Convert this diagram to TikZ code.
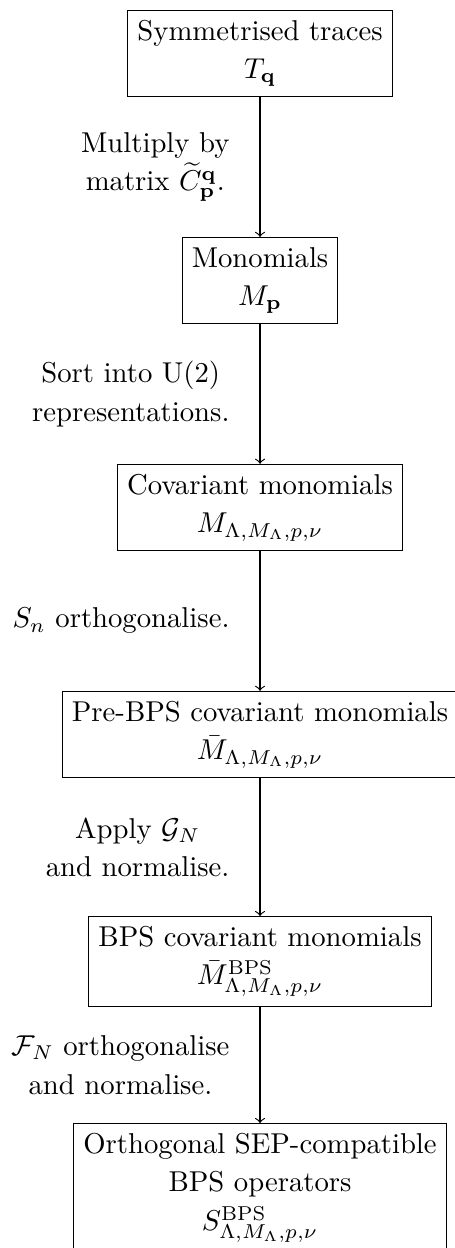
\documentclass[tikz,border=0pt]{standalone}
\usepackage{amsmath}
\usetikzlibrary{positioning}

\begin{document}
\begin{tikzpicture}[
    procbox/.style={
      draw,
      align=center,
      font=\linespread{1.117}\selectfont
    },
    steplabel/.style={
      midway,
      left=0.25cm,
      align=center,
      font=\linespread{1.117}\selectfont
    },
    node distance=2.78cm,
    on grid
  ]

      % Fixed frame, same proportions as the page
      \useasboundingbox (-90.6pt,18.6pt) rectangle (67.9pt,-416.2pt);

      % Chain of boxes, top to bottom
      \node[procbox] (traces) at (0,0) {Symmetrised traces\\ $T_{\mathbf{q}}$};
      \node[procbox, below=of traces] (monos) {Monomials\\ $M_{\mathbf{p}}$};
      \node[procbox, below=of monos] (covmonos) {Covariant monomials\\ $M_{\Lambda,M_\Lambda,p,\nu}$};
      \node[procbox, below=of covmonos] (prebps) {Pre-BPS covariant monomials\\ $\bar{M}_{\Lambda,M_\Lambda,p,\nu}$};
      \node[procbox, below=of prebps] (bpsmonos) {BPS covariant monomials\\ $\bar{M}^{\mathrm{BPS}}_{\Lambda,M_\Lambda,p,\nu}$};
      \node[procbox, below=2.77cm of bpsmonos] (sepops) {Orthogonal SEP-compatible\\ BPS operators\\ $S^{\mathrm{BPS}}_{\Lambda,M_\Lambda,p,\nu}$};

      % Steps between the boxes
      \draw[->] (traces) -- (monos)
        node[steplabel] {Multiply by\\ matrix $\widetilde{C}^{\mathbf{q}}_{\mathbf{p}}$.};
      \draw[->] (monos) -- (covmonos)
        node[steplabel] {Sort into U(2)\\ representations.};
      \draw[->] (covmonos) -- (prebps)
        node[steplabel] {$S_n$ orthogonalise.};
      \draw[->] (prebps) -- (bpsmonos)
        node[steplabel] {Apply $\mathcal{G}_N$\\ and normalise.};
      \draw[->] (bpsmonos) -- (sepops)
        node[steplabel] {$\mathcal{F}_N$ orthogonalise\\ and normalise.};

\end{tikzpicture}
\end{document}
